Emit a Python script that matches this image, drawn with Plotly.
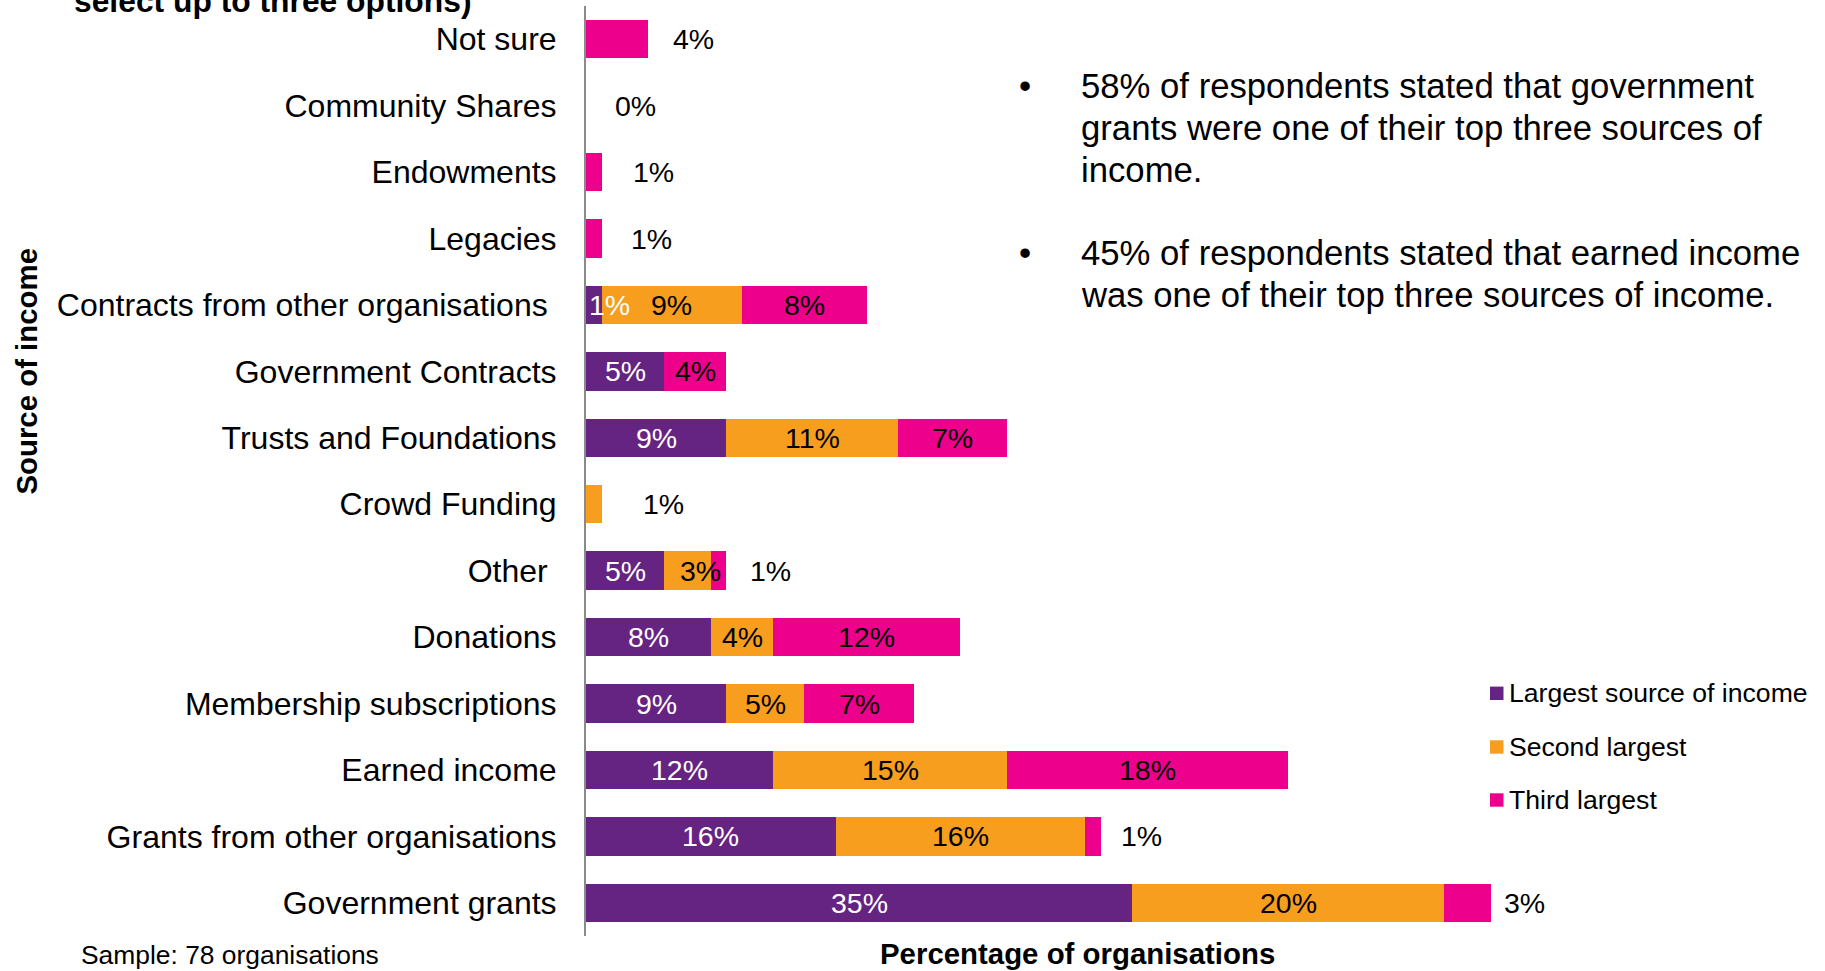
import plotly.graph_objects as go

# ---- data (share of organisations, %) ----
categories = [
    "Government grants",
    "Grants from other organisations",
    "Earned income",
    "Membership subscriptions",
    "Donations",
    "Other ",
    "Crowd Funding",
    "Trusts and Foundations",
    "Government Contracts",
    "Contracts from other organisations ",
    "Legacies",
    "Endowments",
    "Community Shares",
    "Not sure",
]
largest = [35, 16, 12, 9, 8, 5, 0, 9, 5, 1, 0, 0, 0, 0]
second = [20, 16, 15, 5, 4, 3, 1, 11, 0, 9, 0, 0, 0, 0]
third = [3, 1, 18, 7, 12, 1, 0, 7, 4, 8, 1, 1, 0, 4]

series_names = ["Largest source of income", "Second largest", "Third largest"]
series_values = [largest, second, third]
series_colors = ["#662482", "#F79E1E", "#EC008C"]
label_colors = ["white", "black", "black"]

# categories whose last value label sits just past the end of the bar (gap in px)
outside_gap = {
    "Government grants": 11,
    "Grants from other organisations": 18,
    "Other ": 22,
    "Crowd Funding": 39,
    "Legacies": 27,
    "Endowments": 29,
    "Community Shares": 27,
    "Not sure": 23,
}
# small horizontal nudges (px) for crowded in-bar labels: (category, series index)
label_nudge = {
    ("Contracts from other organisations ", 0): 16,
    ("Other ", 1): 13,
}

bullets = [
    ["58% of respondents stated that government",
     "grants were one of their top three sources of",
     "income."],
    ["45% of respondents stated that earned income",
     "was one of their top three sources of income."],
]

FONT = "Arial, 'Liberation Sans', sans-serif"

# ---- page geometry (px) ----
W, H = 1825, 971
L, R, T, B = 586, 25, 6, 35
PW, PH = W - L - R, H - T - B
PX_PER_PCT = 15.6
x_max = PW / PX_PER_PCT


def xp(px):
    return (px - L) / PW


def yp(py):
    return (H - B - py) / PH


fig = go.Figure()
for name, vals, col in zip(series_names, series_values, series_colors):
    fig.add_trace(go.Bar(
        y=categories, x=vals, name=name, orientation="h",
        marker=dict(color=col, line=dict(width=0)),
        showlegend=False, hoverinfo="name+x",
    ))

annotations = []

# value labels
for i, cat in enumerate(categories):
    vals = [s[i] for s in series_values]
    total = sum(vals)
    nonzero = [k for k, v in enumerate(vals) if v > 0]
    last = nonzero[-1] if nonzero else None
    base = 0
    for k, v in enumerate(vals):
        if v > 0 and not (cat in outside_gap and k == last):
            annotations.append(dict(
                x=base + v / 2, y=cat, xref="x", yref="y",
                text=f"{v}%", showarrow=False, xanchor="center", yanchor="middle",
                xshift=label_nudge.get((cat, k), 0),
                font=dict(family=FONT, size=28.5, color=label_colors[k]),
            ))
        base += v
    if cat in outside_gap:
        shown = vals[last] if last is not None else total
        annotations.append(dict(
            x=total, y=cat, xref="x", yref="y",
            text=f"{shown}%", showarrow=False, xanchor="left", yanchor="middle",
            xshift=outside_gap[cat],
            font=dict(family=FONT, size=28.5, color="black"),
        ))

# commentary bullets
bullet_tops = [86, 253]
for lines, y0 in zip(bullets, bullet_tops):
    annotations.append(dict(
        x=xp(1025), y=yp(y0), xref="paper", yref="paper", text="•",
        showarrow=False, xanchor="center", yanchor="middle",
        font=dict(family=FONT, size=34.7, color="black"),
    ))
    for j, line in enumerate(lines):
        annotations.append(dict(
            x=xp(1079), y=yp(y0 + 42 * j), xref="paper", yref="paper", text=line,
            showarrow=False, xanchor="left", yanchor="middle",
            font=dict(family=FONT, size=34.7, color="black"),
        ))

# legend
shapes = []
legend_rows = [693.3, 747, 800]
for name, col, yc in zip(series_names, series_colors, legend_rows):
    shapes.append(dict(
        type="rect", xref="paper", yref="paper",
        x0=xp(1490), x1=xp(1503.5), y0=yp(yc + 6.7), y1=yp(yc - 6.7),
        fillcolor=col, line=dict(width=0),
    ))
    annotations.append(dict(
        x=xp(1507), y=yp(yc), xref="paper", yref="paper", text=name,
        showarrow=False, xanchor="left", yanchor="middle",
        font=dict(family=FONT, size=26.6, color="black"),
    ))

# titles and notes
annotations += [
    dict(x=xp(72), y=yp(1.5), xref="paper", yref="paper",
         text="<b>select up to three options)</b>", showarrow=False,
         xanchor="left", yanchor="middle",
         font=dict(family=FONT, size=31.8, color="black")),
    dict(x=xp(25.6), y=yp(371), xref="paper", yref="paper",
         text="<b>Source of income</b>", showarrow=False, textangle=-90,
         xanchor="center", yanchor="middle",
         font=dict(family=FONT, size=29.4, color="black")),
    dict(x=xp(1077), y=yp(954), xref="paper", yref="paper",
         text="<b>Percentage of organisations</b>", showarrow=False,
         xanchor="center", yanchor="middle",
         font=dict(family=FONT, size=29.4, color="black")),
    dict(x=xp(79.5), y=yp(955), xref="paper", yref="paper",
         text="Sample: 78 organisations", showarrow=False,
         xanchor="left", yanchor="middle",
         font=dict(family=FONT, size=26.4, color="black")),
]

fig.update_layout(
    width=W, height=H,
    margin=dict(l=L, r=R, t=T, b=B, pad=0),
    barmode="stack", bargap=0.423,
    plot_bgcolor="white", paper_bgcolor="white",
    font=dict(family=FONT, color="black"),
    annotations=annotations, shapes=shapes,
    xaxis=dict(range=[0, x_max], visible=False, fixedrange=True),
    yaxis=dict(
        type="category", categoryorder="array", categoryarray=categories,
        range=[-0.5, len(categories) - 0.5],
        tickmode="array", tickvals=categories,
        ticktext=[c.replace(" ", "\u00a0") if c.endswith(" ") else c for c in categories],
        showline=True, linecolor="#8a8a8a", linewidth=2,
        ticks="outside", ticklen=0, tickcolor="white", ticklabelstandoff=21,
        tickfont=dict(family=FONT, size=32, color="black"),
        showgrid=False, zeroline=False, fixedrange=True,
    ),
)

fig.write_html("out.html", include_plotlyjs=True, config={"displayModeBar": False})
